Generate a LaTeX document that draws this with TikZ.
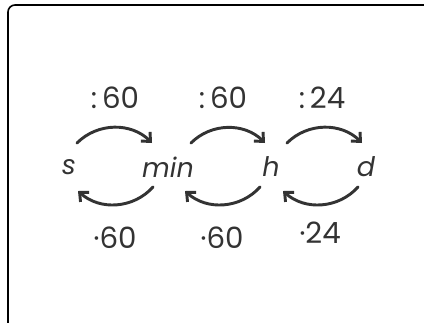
\documentclass[tikz,border=0pt]{standalone}
\usepackage{fontspec}
\setmainfont{Poppins}
\usetikzlibrary{arrows.meta, calc}
\colorlet{Ink}{black!80}
\tikzset{
  unit/.style  = {font=\fontsize{23}{26}\selectfont\itshape, text=Ink, inner sep=0pt},
  fac/.style   = {font=\fontsize{25}{28}\selectfont, text=Ink, inner sep=0pt},
  conv/.style  = {-{Straight Barb[length=6pt, width=11pt]}, line width=2.5pt,
                  draw=Ink, line cap=round},
  frame/.style = {draw=black, line width=1.4pt, rounded corners=6pt},
}

\begin{document}
\begin{tikzpicture}[x=0.03cm, y=0.03cm]

%%──────────────────────────────────────────────────
%% Card frame (runs off the right and bottom edges)
%%──────────────────────────────────────────────────
\useasboundingbox (0,0) rectangle (424,322);
\clip (0,0) rectangle (424,322);
\draw[frame] (8,-20) rectangle (444,317);

%%──────────────────────────────────────────────────
%% Units
%%──────────────────────────────────────────────────
\node[unit] (s)   at (69 ,155) {s};
\node[unit] (min) at (168,155) {min};
\node[unit] (h)   at (271,155) {h};
\node[unit] (d)   at (366,155) {d};

%%──────────────────────────────────────────────────
%% Factors
%%──────────────────────────────────────────────────
\node[fac] (divsm) at (115,224) {:\,60};
\node[fac] (divmh) at (223,224) {:\,60};
\node[fac] (divhd) at (322,224) {:\,24};
\node[fac] (mulms) at (115, 84) {·60};
\node[fac] (mulhm) at (222, 84) {·60};
\node[fac] (muldh) at (320, 89) {·24};

%%──────────────────────────────────────────────────
%% Conversions: larger -> smaller unit (top)
%%──────────────────────────────────────────────────
\draw[conv] ($(s)+(8,24)$)    to[bend left=45] ($(min)+(-16,24)$);
\draw[conv] ($(min)+(23,24)$) to[bend left=45] ($(h)+(-6,24)$);
\draw[conv] ($(h)+(16,24)$)   to[bend left=45] ($(d)+(-4,24)$);

%%──────────────────────────────────────────────────
%% Conversions: back again (bottom)
%%──────────────────────────────────────────────────
\draw[conv] ($(min)+(-15,-20)$) to[bend left=45] ($(s)+(9,-24)$);
\draw[conv] ($(h)+(-11,-20)$)   to[bend left=45] ($(min)+(17,-24)$);
\draw[conv] ($(d)+(-8,-20)$)    to[bend left=45] ($(h)+(12,-24)$);

\end{tikzpicture}
\end{document}
